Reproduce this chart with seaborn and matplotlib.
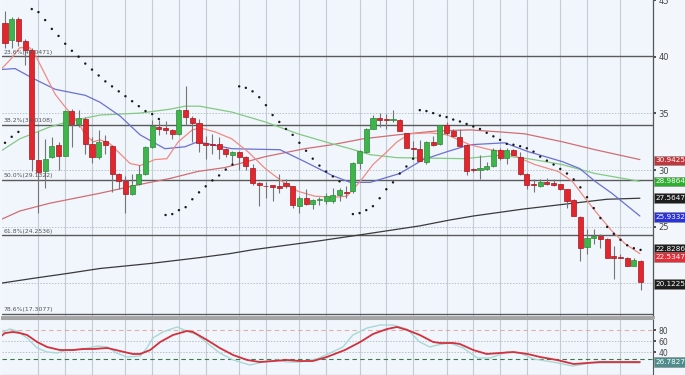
import numpy as np
import pandas as pd
import matplotlib
matplotlib.use("Agg")
import matplotlib.pyplot as plt
import matplotlib.transforms as mtransforms
import seaborn as sns

# --- candles (daily, oldest first) ---
opens = [42.97, 41.48, 43.32, 41.40, 40.61, 30.92, 29.87, 31.18, 32.23, 31.27,
         35.20, 34.06, 34.50, 32.31, 31.18, 32.58, 32.14, 29.61, 29.00, 27.86,
         28.73, 29.69, 32.05, 33.80, 33.70, 33.54, 33.19, 35.28, 34.59, 34.15,
         32.40, 32.31, 32.31, 31.88, 31.35, 31.62, 31.18, 30.22, 28.82, 28.60,
         28.65, 28.56, 28.82, 28.56, 26.81, 27.51, 26.99, 27.38, 27.25, 27.30,
         27.77, 28.10, 28.12, 30.66, 31.62, 33.62, 34.55, 34.45, 34.40, 34.41,
         33.28, 31.97, 31.88, 30.74, 32.49, 32.31, 33.97, 33.45, 32.93, 32.23,
         30.04, 29.96, 30.13, 30.39, 31.79, 31.09, 31.79, 31.18, 29.69, 28.73,
         28.56, 28.91, 28.82, 28.73, 28.30, 27.34, 25.85, 23.23, 24.02, 24.19,
         23.93, 22.45, 22.36, 22.27, 21.57, 22.01]
highs = [44.00, 43.50, 43.50, 41.60, 40.80, 33.40, 32.70, 32.90, 32.50, 35.30,
         35.40, 35.28, 34.67, 32.93, 33.50, 33.10, 32.20, 29.70, 29.43, 29.61,
         30.48, 32.10, 34.41, 34.40, 34.30, 33.60, 35.40, 37.38, 34.80, 34.50,
         33.00, 33.20, 32.93, 31.90, 31.70, 31.70, 31.20, 30.57, 28.91, 28.91,
         28.70, 29.69, 29.17, 28.60, 27.69, 28.30, 27.40, 27.60, 27.95, 28.40,
         28.40, 28.60, 30.70, 31.80, 33.70, 34.85, 35.00, 34.90, 35.30, 34.50,
         33.30, 32.60, 32.66, 32.60, 33.00, 34.00, 34.24, 33.62, 33.62, 32.30,
         30.20, 31.35, 30.74, 31.90, 31.90, 31.90, 31.88, 31.62, 29.70, 29.17,
         29.17, 29.26, 29.17, 28.80, 28.30, 27.40, 25.90, 24.80, 24.80, 24.37,
         24.00, 23.32, 22.60, 22.30, 22.27, 22.10]
lows = [40.80, 40.80, 40.96, 39.30, 29.90, 26.20, 28.40, 31.10, 30.00, 31.20,
        32.05, 33.80, 31.44, 30.60, 31.00, 31.44, 28.10, 28.30, 26.20, 27.80,
        28.70, 29.60, 31.90, 33.10, 33.20, 32.70, 33.10, 34.00, 32.50, 31.62,
        31.00, 31.44, 31.00, 31.18, 30.57, 30.04, 30.04, 28.70, 26.81, 27.51,
        27.25, 28.00, 28.40, 26.64, 26.20, 26.90, 26.55, 26.90, 27.00, 27.10,
        27.25, 27.50, 28.00, 30.13, 31.50, 33.60, 33.80, 33.60, 34.20, 33.40,
        31.90, 31.00, 30.80, 30.57, 32.10, 32.20, 33.10, 32.90, 32.00, 29.52,
        29.80, 29.17, 30.00, 30.30, 30.90, 30.57, 31.30, 29.60, 28.30, 28.03,
        28.50, 28.65, 28.60, 28.20, 26.64, 25.90, 22.01, 22.62, 23.49, 23.14,
        22.20, 20.35, 22.20, 21.50, 21.50, 19.39]
closes = [41.22, 43.32, 41.40, 40.61, 31.00, 29.78, 31.00, 32.14, 31.27, 35.20,
          34.06, 34.59, 32.31, 31.18, 32.49, 32.23, 29.61, 29.00, 27.86, 28.65,
          29.61, 32.05, 33.89, 33.62, 33.50, 33.19, 35.28, 34.67, 34.15, 32.40,
          32.23, 32.23, 31.88, 31.44, 31.62, 31.18, 30.31, 28.82, 28.65, 28.55,
          28.47, 28.40, 28.56, 26.90, 27.51, 26.99, 27.34, 27.42, 27.69, 27.80,
          28.20, 28.00, 30.66, 31.70, 33.62, 34.59, 34.45, 34.40, 34.45, 33.45,
          31.97, 31.88, 30.83, 32.49, 32.23, 33.97, 33.28, 33.01, 32.14, 29.87,
          30.00, 30.22, 30.39, 31.79, 31.09, 31.79, 31.35, 29.69, 28.65, 28.65,
          28.91, 28.73, 28.65, 28.30, 27.25, 25.94, 23.14, 24.02, 24.19, 23.93,
          22.27, 22.27, 22.27, 21.57, 22.10, 20.12]

# parabolic SAR (None where no dot is visible)
sar = [32.40, 32.93, 33.36, None, 44.20, 43.93, 43.23, 42.45, 41.83, 41.14,
       40.52, 40.00, 39.39, 38.86, 38.34, 37.82, 37.38, 36.94, 36.51, 36.07,
       35.63, 35.20, 34.93, 34.50, 26.03, 26.11, 26.46, 26.72, 27.42, 28.03,
       28.56, 29.08, 29.52, 30.04, 30.48, 37.38, 37.25, 36.94, 36.42, 35.72,
       34.85, 34.24, 33.62, 33.10, 32.40, 31.70, 31.00, 30.39, 29.87, 29.43,
       29.00, None, 26.11, 26.20, 26.46, 26.81, 27.51, 28.30, 28.91, 29.69,
       30.31, 31.00, 35.28, 35.20, 35.02, 34.80, 34.67, 34.45, 34.28, 34.06,
       33.84, 33.62, 33.28, 32.97, 32.66, 32.31, 32.23, 32.10, 31.92, 31.62,
       31.18, 30.83, 30.48, 30.09, 29.69, 29.17, 28.47, 27.60, 26.64, 25.76,
       24.98, 24.37, 23.84, 23.36, 23.10, 22.95]

# moving averages (x = candle number from 0)
fast_x = [-0.5, 0.8, 2.2, 3.7, 4.5, 6.0, 7.5, 9.0, 10.9, 12.0, 13.2, 14.2, 15.7,
          17.2, 18.7, 20.2, 22.4, 24.2, 25.9, 28.0, 29.2, 31.4, 33.9, 36.3, 38.9,
          41.4, 43.8, 46.3, 49.3, 51.1, 53.1, 55.0, 57.1, 58.6, 60.5, 63.5, 66.1,
          69.5, 72.5, 74.7, 79.2, 82.7, 84.8, 86.7, 88.6, 90.7, 92.7, 94.9]
fast_y = [38.95, 39.74, 40.79, 40.79, 40.17, 38.43, 36.68, 35.55, 34.24, 33.10,
          32.49, 32.66, 32.31, 31.44, 30.57, 30.39, 30.92, 31.00, 32.49, 33.54,
          33.71, 33.36, 32.75, 31.62, 30.13, 29.00, 28.12, 27.69, 27.60, 27.69,
          29.00, 30.48, 31.62, 32.49, 33.19, 33.28, 33.10, 32.23, 31.79, 31.62,
          30.48, 29.87, 29.00, 27.51, 26.11, 24.63, 23.49, 22.62]
mid_x = [-0.75, 1.5, 4.2, 7.5, 12.0, 14.2, 17.2, 20.2, 23.9, 26.9, 28.8, 33.9,
         41.1, 44.8, 48.9, 51.6, 54.6, 59.0, 62.5, 66.1, 69.5, 74.7, 78.2, 83.3,
         85.9, 88.2, 90.7, 94.9]
mid_y = [38.86, 38.95, 38.08, 37.12, 36.59, 35.98, 34.76, 33.10, 31.88, 32.05,
         32.49, 31.88, 31.79, 30.74, 29.52, 28.91, 28.91, 29.69, 30.92, 31.62,
         32.23, 32.40, 31.62, 30.74, 30.13, 29.00, 27.95, 25.94]
slow_x = [-0.75, 2.2, 6.7, 9.3, 14.2, 20.2, 24.7, 26.9, 29.1, 33.9, 38.9, 43.8,
          48.9, 51.6, 54.6, 58.6, 68.5, 74.0, 78.2, 83.3, 88.2, 94.9]
slow_y = [31.62, 32.75, 33.80, 34.24, 34.85, 35.02, 35.37, 35.63, 35.63, 35.11,
          34.24, 33.19, 32.31, 31.88, 31.35, 31.09, 31.00, 31.30, 31.00, 30.48,
          29.69, 29.00]
ma100_x = [-0.75, 2.2, 6.7, 14.2, 20.2, 24.7, 28.8, 32.9, 38.9, 44.8, 48.9, 53.5,
           58.6, 64.6, 69.5, 74.0, 77.7, 83.3, 88.2, 94.9]
ma100_y = [25.59, 26.38, 27.07, 27.95, 28.73, 29.26, 29.87, 30.22, 31.18, 31.88,
           32.23, 32.75, 33.10, 33.45, 33.54, 33.36, 33.19, 32.49, 31.79, 30.92]
ma200_x = [-0.75, 4.2, 9.3, 14.2, 21.7, 29.1, 33.6, 37.1, 47.1, 53.1, 62.0, 66.5,
           70.0, 77.4, 84.9, 90.0, 94.9]
ma200_y = [20.00, 20.44, 20.87, 21.31, 21.75, 22.27, 22.62, 22.97, 23.76, 24.28,
           25.07, 25.59, 25.94, 26.55, 27.07, 27.42, 27.51]

# stochastic oscillator
stoch_d_x = [-0.75, 0.0, 1.2, 2.2, 3.3, 4.8, 6.3, 8.2, 10.2, 11.7, 13.2, 15.3,
             17.2, 19.1, 20.2, 21.7, 23.2, 25.1, 27.2, 28.1, 30.2, 32.1, 34.1,
             36.2, 38.1, 40.1, 42.2, 44.1, 46.0, 48.1, 50.8, 53.1, 55.0, 57.1,
             58.6, 60.1, 62.0, 64.0, 65.0, 67.0, 68.0, 70.0, 72.0, 74.0, 76.0,
             78.1, 80.0, 82.5, 85.0, 87.0, 88.9, 91.9, 94.9]
stoch_d_y = [67.3, 74.5, 76.4, 74.5, 70.9, 58.2, 49.1, 43.6, 43.6, 45.5, 45.5,
             47.3, 41.8, 36.4, 36.4, 43.6, 58.2, 70.9, 78.2, 76.4, 61.8, 47.3,
             34.5, 25.5, 21.8, 23.6, 25.5, 23.6, 23.6, 30.9, 43.6, 58.2, 72.7,
             81.8, 85.5, 80.0, 70.9, 58.2, 56.4, 56.4, 54.5, 43.6, 36.4, 38.2,
             40.0, 36.4, 30.9, 25.5, 18.2, 20.0, 21.8, 21.8, 21.8]
stoch_k_x = [-0.75, 0.75, 1.8, 3.3, 4.8, 6.3, 7.8, 9.3, 11.7, 13.8, 15.3, 16.7,
             18.2, 20.2, 21.2, 22.1, 23.6, 25.7, 27.2, 28.7, 30.2, 32.1, 34.1,
             36.6, 38.6, 40.7, 42.2, 44.1, 46.6, 48.6, 50.5, 52.0, 54.1, 56.1,
             58.0, 60.1, 62.0, 63.5, 64.6, 66.5, 68.5, 70.6, 72.5, 75.0, 77.0,
             79.0, 81.9, 84.9, 87.4, 90.0, 94.9]
stoch_k_y = [74.5, 81.8, 78.2, 65.5, 47.3, 40.0, 38.2, 43.6, 45.5, 50.9, 49.1,
             38.2, 30.9, 32.7, 47.3, 65.5, 76.4, 85.5, 78.2, 70.9, 56.4, 38.2,
             25.5, 16.4, 21.8, 25.5, 21.8, 21.8, 27.3, 38.2, 49.1, 70.9, 83.6,
             89.1, 89.1, 81.8, 58.2, 49.1, 52.7, 56.4, 47.3, 29.1, 29.1, 40.0,
             38.2, 27.3, 21.8, 14.5, 20.0, 20.0, 20.0]

fib_levels = [40.0471, 34.0108, 29.1322, 24.2536, 17.3077]
fib_texts = ["23.6%(40.0471)", "38.2%(34.0108)", "50.0%(29.1322)",
             "61.8%(24.2536)", "78.6%(17.3077)"]
week_starts = [5, 9, 13, 18, 22, 26, 30, 35, 39, 44, 48, 53, 57, 61, 66, 70, 74,
               78, 83, 87, 92]

# right-hand value tags: text, y position, colour
tag_texts = ["30.9425", "28.9864", "27.5647", "25.9332", "22.8286", "22.5347", "20.1225"]
tag_pos = [30.85, 29.00, 27.55, 25.85, 23.05, 22.35, 19.95]
tag_colors = ["#c0383e", "#2fae2f", "#1e1e1e", "#2b33d6", "#1e1e1e", "#e0303a", "#1e1e1e"]

sns.set_style("white")
plt.rcParams["font.family"] = ["DejaVu Sans"]

bg = "#f0f6fc"
fig = plt.figure(figsize=(6.85, 3.75), dpi=100, facecolor="#f3f7fb")
ax = fig.add_axes([2 / 685, 1 - 317 / 375, 651 / 685, 317 / 375], facecolor=bg)
sub = fig.add_axes([2 / 685, 0, 651 / 685, 56 / 375], facecolor=bg)

df = pd.DataFrame({"open": opens, "high": highs, "low": lows, "close": closes})
df["idx"] = np.arange(len(df))
up = df["close"] >= df["open"]

for a in (ax, sub):
    for w in week_starts:
        a.axvline(w, color="#c3cbd3", lw=0.8, zorder=0)
    a.set_xlim(-0.45, 96.86)

for lv in [20, 25, 30, 35]:
    ax.axhline(lv, color="#b9c1c9", lw=0.7, ls=(0, (1.5, 1.5)), zorder=0)

for lv, txt in zip(fib_levels, fib_texts):
    ax.axhline(lv, color="#5a5a5a", lw=1.0, zorder=1)
    ax.text(-0.2, lv + 0.12, txt, fontsize=4.4, color="#555555", va="bottom", ha="left", zorder=6)

# long term averages behind the candles
sns.lineplot(x=ma200_x, y=ma200_y, ax=ax, color="#3a3a3a", lw=0.9, sort=False, zorder=2)
sns.lineplot(x=ma100_x, y=ma100_y, ax=ax, color="#cf6e74", lw=0.9, sort=False, zorder=2)
sns.lineplot(x=slow_x, y=slow_y, ax=ax, color="#84c884", lw=0.9, sort=False, zorder=2)
sns.lineplot(x=mid_x, y=mid_y, ax=ax, color="#6b70d4", lw=0.9, sort=False, zorder=2)
sns.lineplot(x=fast_x, y=fast_y, ax=ax, color="#f08a84", lw=0.9, sort=False, zorder=2)

# candles
ax.vlines(df["idx"], df["low"], df["high"], color="#767676", lw=0.8, zorder=3)
body_lo = df[["open", "close"]].min(axis=1)
body_h = (df["close"] - df["open"]).abs().clip(lower=0.08)
ax.bar(df["idx"][up], body_h[up], bottom=body_lo[up], width=0.76,
       color="#3db54a", edgecolor="#2a8a36", lw=0.5, zorder=4)
ax.bar(df["idx"][~up], body_h[~up], bottom=body_lo[~up], width=0.76,
       color="#e3262e", edgecolor="#a8161c", lw=0.5, zorder=4)

sar_df = pd.DataFrame({"idx": np.arange(len(sar)), "sar": sar}).dropna()
sns.scatterplot(data=sar_df, x="idx", y="sar", ax=ax, color="#1a1a1a", s=3,
                edgecolor="none", zorder=5)

ax.set_ylim(17.03, 44.72)
ax.yaxis.tick_right()
ax.set_yticks([25, 30, 35, 40, 45])
ax.tick_params(axis="y", length=2, width=1.2, color="#333333", labelsize=6,
               labelcolor="#444444", pad=2)
ax.set_xticks([])
ax.set_xlabel("")
ax.set_ylabel("")
for s in ["top", "left"]:
    ax.spines[s].set_visible(False)
ax.spines["right"].set_color("#555555")
ax.spines["right"].set_linewidth(0.9)
ax.spines["bottom"].set_color("#a4a4a4")
ax.spines["bottom"].set_linewidth(2.0)

trans = mtransforms.blended_transform_factory(ax.transAxes, ax.transData)
for txt, pos, col in zip(tag_texts, tag_pos, tag_colors):
    ax.text(1.004, pos, txt, transform=trans, fontsize=5.2, color="white",
            va="center", ha="left", zorder=8, clip_on=False,
            bbox=dict(boxstyle="square,pad=0.25", fc=col, ec="#888888", lw=0.4))

# oscillator panel
sub.axhline(80, color="#e0b0a8", lw=0.8, ls=(0, (4, 3)), zorder=1)
sub.axhline(27, color="#3a7a4a", lw=0.8, ls=(0, (4, 3)), zorder=1)
for lv in [40, 60]:
    sub.axhline(lv, color="#b9c1c9", lw=0.7, ls=(0, (1.5, 1.5)), zorder=0)
sns.lineplot(x=stoch_k_x, y=stoch_k_y, ax=sub, color="#a8d8d6", lw=1.0, sort=False, zorder=2)
sns.lineplot(x=stoch_d_x, y=stoch_d_y, ax=sub, color="#d42f3c", lw=1.3, sort=False, zorder=3)
sub.set_ylim(-1.8, 100)
sub.yaxis.tick_right()
sub.set_yticks([40, 60, 80])
sub.tick_params(axis="y", length=2, width=1.2, color="#333333", labelsize=5.5,
                labelcolor="#444444", pad=2)
sub.set_xticks(week_starts)
sub.tick_params(axis="x", length=2, labelbottom=False, color="#555555")
sub.set_xlabel("")
sub.set_ylabel("")
sub.spines["left"].set_visible(False)
sub.spines["top"].set_color("#a4a4a4")
sub.spines["top"].set_linewidth(1.5)
sub.spines["right"].set_color("#555555")
sub.spines["bottom"].set_color("#555555")
trans2 = mtransforms.blended_transform_factory(sub.transAxes, sub.transData)
sub.text(1.004, stoch_k_y[-1] + 2, "26.7827", transform=trans2, fontsize=5.2,
         color="white", va="center", ha="left", clip_on=False, zorder=8,
         bbox=dict(boxstyle="square,pad=0.25", fc="#4f8c8c", ec="#888888", lw=0.4))

fig.savefig("out.png", dpi=100, facecolor=fig.get_facecolor())
